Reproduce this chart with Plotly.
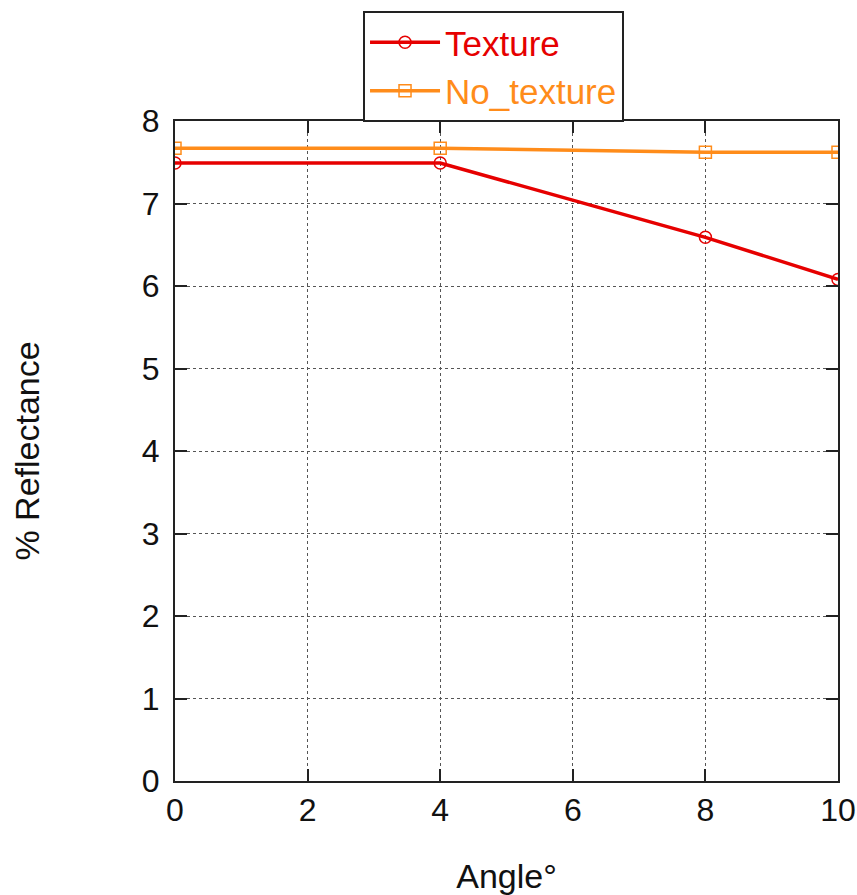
import plotly.graph_objects as go

# Reflectance measured at each incidence angle
angles = [0, 4, 8, 10]
texture = [7.49, 7.49, 6.59, 6.08]
no_texture = [7.67, 7.67, 7.62, 7.62]

red = "#e60000"
orange = "#ff8c1a"

fig = go.Figure()
fig.add_trace(go.Scatter(
    x=angles, y=texture, name=f"<span style='color:{red}'>Texture</span>",
    mode="lines+markers",
    line=dict(color=red, width=3.5),
    marker=dict(symbol="circle-open", size=12, color=red, line=dict(width=1.5)),
))
fig.add_trace(go.Scatter(
    x=angles, y=no_texture, name=f"<span style='color:{orange}'>No_texture</span>",
    mode="lines+markers",
    line=dict(color=orange, width=3.5),
    marker=dict(symbol="square-open", size=12, color=orange, line=dict(width=1.5)),
))

axis_common = dict(
    showline=True, linecolor="#222", linewidth=2, mirror="ticks",
    ticks="inside", ticklen=12, tickwidth=2, tickcolor="#222",
    showgrid=True, gridcolor="#555", gridwidth=1, griddash="dot",
    zeroline=False,
    tickfont=dict(family="Liberation Sans, Arial", size=32, color="#111"),
)

fig.update_xaxes(
    range=[0, 10], dtick=2, **axis_common,
    title=dict(text="Angle°", standoff=38,
               font=dict(family="Liberation Sans, Arial", size=34, color="#111")),
)
fig.update_yaxes(
    range=[0, 8], dtick=1, ticklabelstandoff=7, **axis_common,
    title=dict(text="% Reflectance", standoff=92,
               font=dict(family="Liberation Sans, Arial", size=34, color="#111")),
)

fig.update_layout(
    width=857, height=895,
    margin=dict(l=175, r=19, t=121, b=114, autoexpand=False),
    paper_bgcolor="white", plot_bgcolor="white",
    legend=dict(
        x=0.2836, y=1.1667, xanchor="left", yanchor="top",
        bordercolor="#222", borderwidth=2, bgcolor="white",
        font=dict(family="Liberation Sans, Arial", size=35),
        itemwidth=70, tracegroupgap=0,
    ),
    showlegend=True,
)

fig.write_html("out.html")
